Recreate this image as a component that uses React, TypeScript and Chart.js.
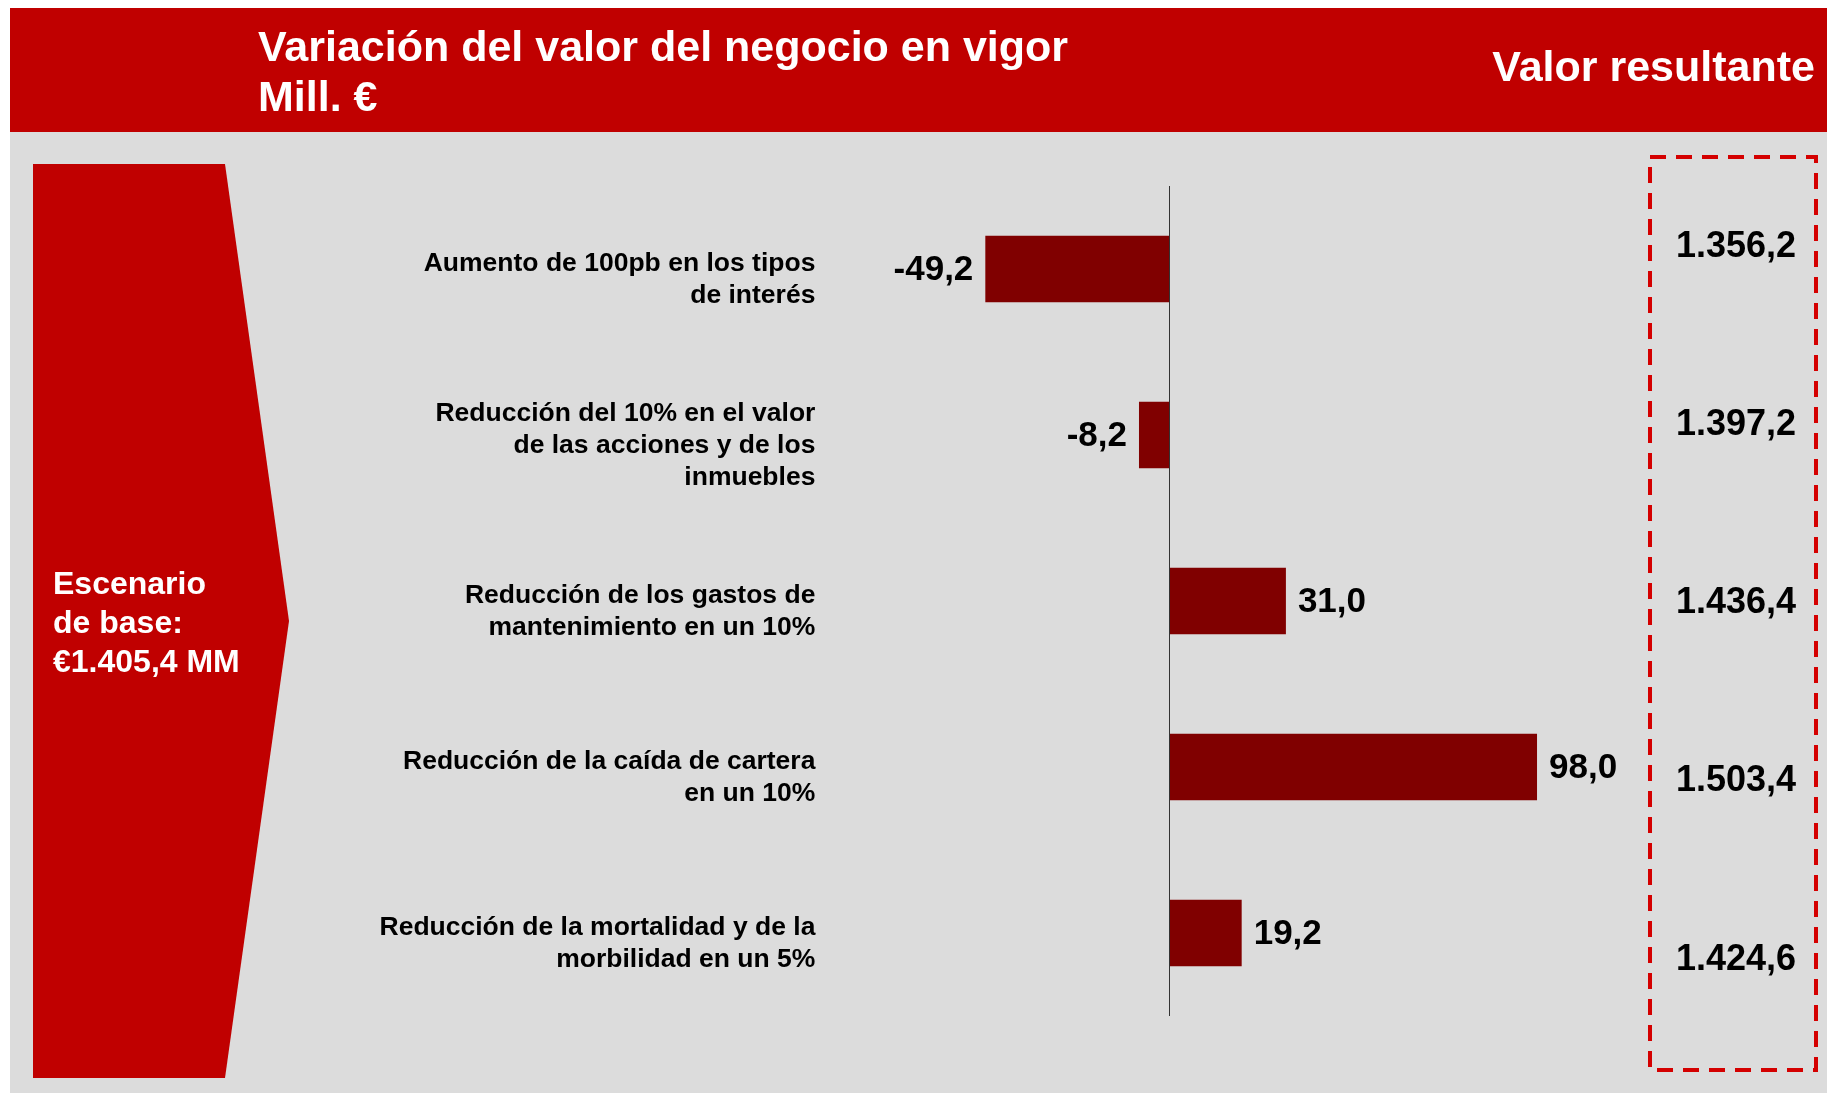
import React, { useEffect, useRef } from "react";
import { Chart, registerables } from "chart.js";

Chart.register(...registerables);

// ---------- data ----------
const categories: string[][] = [
  ["Aumento de 100pb en los tipos", "de interés"],
  ["Reducción del 10% en el valor", "de las acciones y de los", "inmuebles"],
  ["Reducción de los gastos de", "mantenimiento en un 10%"],
  ["Reducción de la caída de cartera", "en un 10%"],
  ["Reducción de la mortalidad y de la", "morbilidad en un 5%"],
];
const variation: number[] = [-49.2, -8.2, 31.0, 98.0, 19.2];
const resultingValues: string[] = ["1.356,2", "1.397,2", "1.436,4", "1.503,4", "1.424,6"];
const baseScenario: string[] = ["Escenario", "de base:", "€1.405,4 MM"];
const titleLines: string[] = ["Variación del valor del negocio en vigor", "Mill. €"];
const rightTitle = "Valor resultante";
const axisMin = -90;
const axisMax = 110;

// ---------- styles ----------
const FONT = '"Liberation Sans", Arial, Helvetica, sans-serif';
const HEADER_RED = "#c00000";
const BAR_RED = "#800000";
const BOX_RED = "#d40000";
const BG_GRAY = "#dcdcdc";

const fmt = (v: number) => v.toFixed(1).replace(".", ",");

const zeroLine = {
  id: "zeroLine",
  afterDatasetsDraw(chart: any) {
    const { ctx, chartArea, scales } = chart;
    const x = Math.round(scales.x.getPixelForValue(0)) - 1;
    ctx.save();
    ctx.fillStyle = "#333333";
    ctx.fillRect(x, chartArea.top, 1, chartArea.bottom - chartArea.top);
    ctx.restore();
  },
};

const valueLabels = {
  id: "valueLabels",
  afterDatasetsDraw(chart: any) {
    const { ctx } = chart;
    const meta = chart.getDatasetMeta(0);
    const values = chart.data.datasets[0].data as number[];
    ctx.save();
    ctx.font = `bold 35px ${FONT}`;
    ctx.fillStyle = "#000000";
    ctx.textBaseline = "middle";
    meta.data.forEach((bar: any, i: number) => {
      const v = values[i];
      const neg = v < 0;
      ctx.textAlign = neg ? "right" : "left";
      ctx.fillText(fmt(v), bar.x + (neg ? -12 : 12), bar.y + 1);
    });
    ctx.restore();
  },
};

export default function App() {
  const canvasRef = useRef<HTMLCanvasElement | null>(null);

  useEffect(() => {
    if (!canvasRef.current) return;
    const chart = new Chart(canvasRef.current, {
      type: "bar",
      data: {
        labels: categories as any,
        datasets: [
          {
            data: variation,
            backgroundColor: BAR_RED,
            borderWidth: 0,
            categoryPercentage: 1,
            barPercentage: 0.4,
          },
        ],
      },
      options: {
        indexAxis: "y",
        responsive: false,
        maintainAspectRatio: false,
        animation: false,
        layout: { padding: { left: 0, right: 245, top: 186, bottom: 77 } },
        plugins: {
          legend: { display: false },
          tooltip: { enabled: false },
        },
        scales: {
          x: { display: false, min: axisMin, max: axisMax },
          y: {
            grid: { display: false, drawTicks: false },
            border: { display: false },
            ticks: {
              color: "#000000",
              autoSkip: false,
              padding: 17,
              labelOffset: 11,
              font: { family: FONT, size: 26.5, weight: "bold", lineHeight: "32px" as any },
            },
            afterFit: (scale: any) => {
              scale.width = 832.4;
            },
          },
        },
      },
      plugins: [zeroLine, valueLabels],
    });
    return () => chart.destroy();
  }, []);

  return (
    <div
      style={{
        position: "absolute",
        left: 0,
        top: 0,
        width: 1827,
        height: 1093,
        background: "#ffffff",
        overflow: "hidden",
        fontFamily: FONT,
        fontWeight: "bold",
      }}
    >
      <div style={{ position: "absolute", left: 10, top: 8, width: 1817, height: 124, background: HEADER_RED }} />
      <div style={{ position: "absolute", left: 10, top: 132, width: 1817, height: 961, background: BG_GRAY }} />
      <svg style={{ position: "absolute", left: 0, top: 0 }} width={1827} height={1093}>
        <polygon points="33,164 225,164 289,621 225,1078 33,1078" fill={HEADER_RED} />
        <rect
          x={1650}
          y={157}
          width={166}
          height={913}
          fill="none"
          stroke={BOX_RED}
          strokeWidth={4}
          strokeDasharray="16 10"
        />
      </svg>
      <canvas
        ref={canvasRef}
        width={1827}
        height={1093}
        style={{ position: "absolute", left: 0, top: 0, width: 1827, height: 1093 }}
      />
      <div
        style={{
          position: "absolute",
          left: 258,
          top: 21,
          color: "#ffffff",
          fontSize: 43,
          lineHeight: "50px",
          whiteSpace: "pre",
        }}
      >
        {titleLines.map((t, i) => (
          <div key={i}>{t}</div>
        ))}
      </div>
      <div
        style={{
          position: "absolute",
          right: 12,
          top: 41,
          color: "#ffffff",
          fontSize: 43,
          lineHeight: "50px",
          whiteSpace: "pre",
        }}
      >
        {rightTitle}
      </div>
      <div
        style={{
          position: "absolute",
          left: 53,
          top: 564,
          color: "#ffffff",
          fontSize: 32,
          lineHeight: "39px",
          whiteSpace: "pre",
        }}
      >
        {baseScenario.map((t, i) => (
          <div key={i}>{t}</div>
        ))}
      </div>
      {resultingValues.map((t, i) => (
        <div
          key={i}
          style={{
            position: "absolute",
            right: 31,
            top: 226.5 + i * 178.3,
            color: "#000000",
            fontSize: 36,
            lineHeight: "36px",
            whiteSpace: "pre",
          }}
        >
          {t}
        </div>
      ))}
    </div>
  );
}
